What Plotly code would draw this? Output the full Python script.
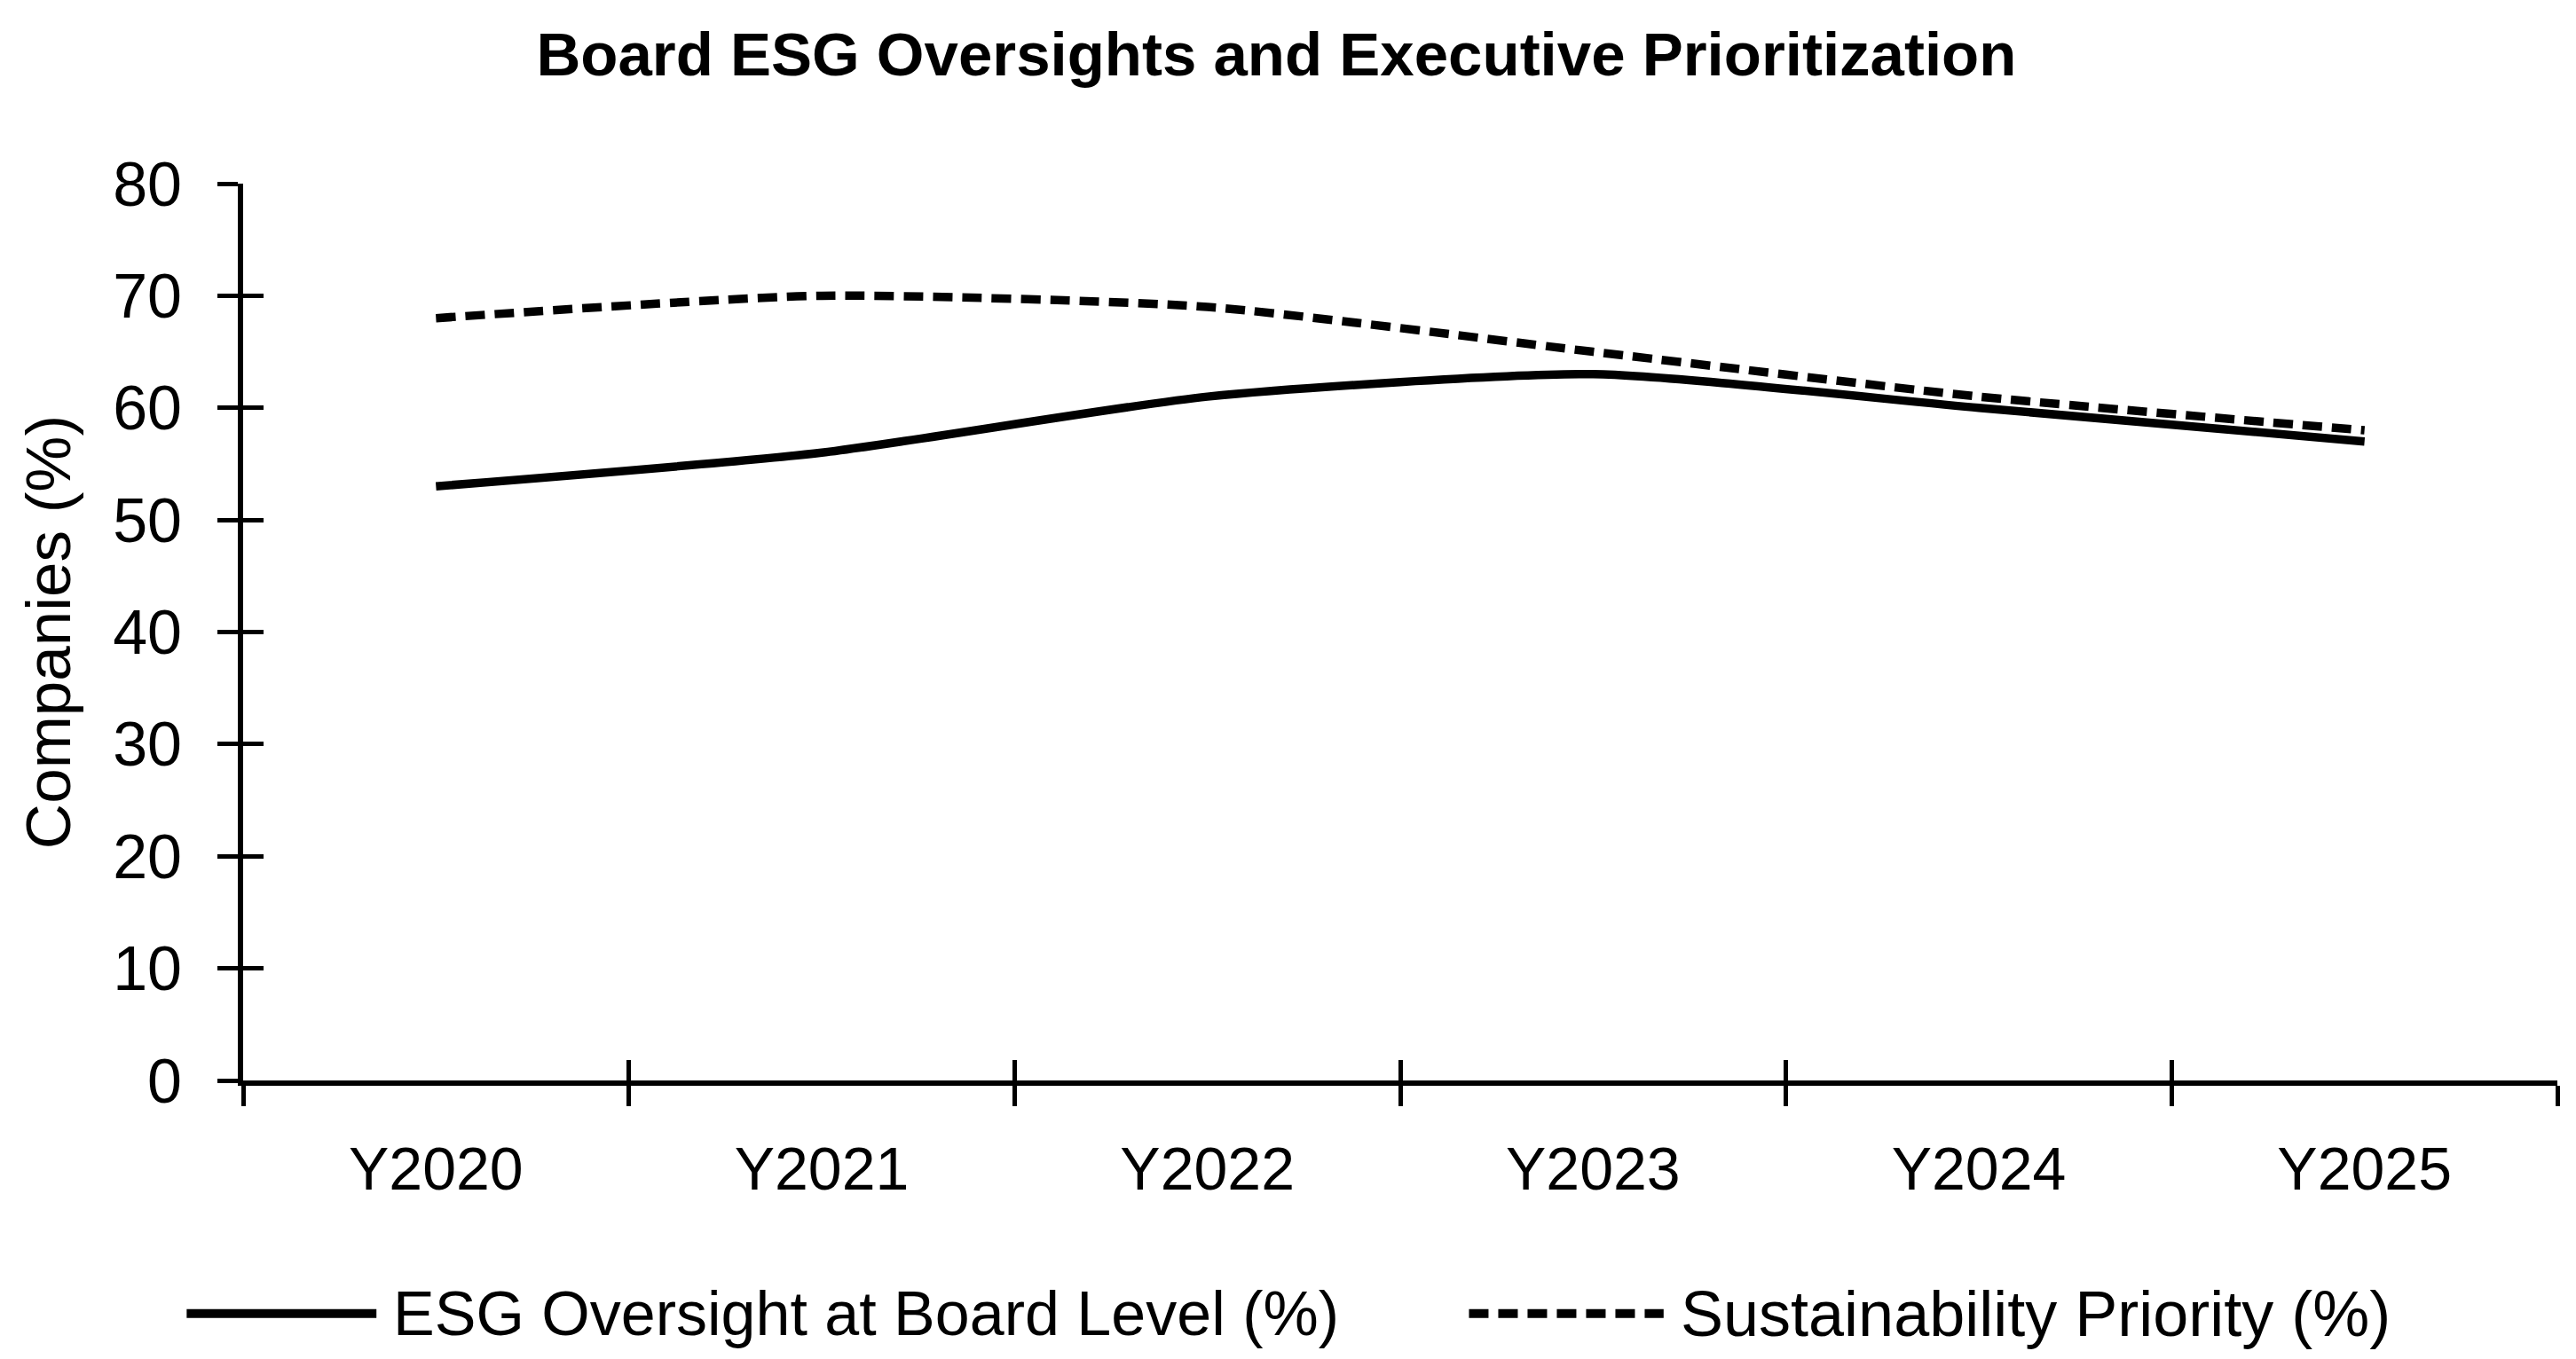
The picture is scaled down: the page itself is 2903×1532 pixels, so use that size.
import plotly.graph_objects as go

# data
years = ["Y2020", "Y2021", "Y2022", "Y2023", "Y2024", "Y2025"]
esg_oversight = [53, 56, 61, 63, 60, 57]
sustainability_priority = [68, 70, 69, 65, 61, 58]
series_names = ["ESG Oversight at Board Level (%)", "Sustainability Priority (%)"]
y_ticks = [0, 10, 20, 30, 40, 50, 60, 70, 80]

FONT = "Liberation Sans, Arial, sans-serif"
LINE_W = 9.5
DASH = "22px,11px"

fig = go.Figure()
fig.add_trace(go.Scatter(
    x=years, y=esg_oversight, name=series_names[0], mode="lines",
    line=dict(color="black", width=LINE_W, shape="spline", smoothing=0.6),
    showlegend=False,
))
# second series on overlaid axes so that ticks can cross the axis lines
fig.add_trace(go.Scatter(
    x=years, y=sustainability_priority, name=series_names[1], mode="lines",
    line=dict(color="black", width=LINE_W, dash=DASH, shape="spline", smoothing=0.6),
    xaxis="x2", yaxis="y2", showlegend=False,
))

axis_common = dict(showgrid=False, zeroline=False, tickcolor="black", tickwidth=5, ticklen=23)

fig.update_layout(
    width=2903, height=1532,
    margin=dict(l=274, r=21, t=207, b=314),
    paper_bgcolor="white", plot_bgcolor="white",
    font=dict(family=FONT, color="black"),
    title=dict(text="<b>Board ESG Oversights and Executive Prioritization</b>",
               font=dict(size=69, family=FONT, color="black"),
               x=0.4955, xanchor="center", y=0.960, yanchor="middle", yref="container"),
    xaxis=dict(type="category", range=[-0.5, 5.5], tickson="boundaries", ticks="outside",
               showline=True, linecolor="black", linewidth=6,
               tickfont=dict(size=68), ticklabelstandoff=35, **axis_common),
    xaxis2=dict(type="category", range=[-0.5, 5.5], tickson="boundaries", ticks="inside",
                overlaying="x", anchor="y", side="bottom", showticklabels=False,
                showline=False, **axis_common),
    yaxis=dict(range=[0, 80], tickvals=y_ticks, ticks="outside", showline=True,
               linecolor="black", linewidth=6, tickfont=dict(size=70),
               ticklabelstandoff=26,
               title=dict(text="Companies (%)", font=dict(size=71), standoff=26),
               **axis_common),
    yaxis2=dict(range=[0, 80], tickvals=y_ticks, ticks="inside", overlaying="y",
                anchor="x", side="left", showticklabels=False, showline=False,
                **axis_common),
)

# legend drawn as paper-positioned samples and labels
legend_y = -0.260
legend_items = [
    (series_names[0], "solid", -0.0244, 0.0576, 0.0640, 70),
    (series_names[1], DASH, 0.5297, 0.6138, 0.6205, 72),
]
for name, dash, x0, x1, xt, size in legend_items:
    fig.add_shape(type="line", xref="paper", yref="paper", x0=x0, x1=x1,
                  y0=legend_y, y1=legend_y,
                  line=dict(color="black", width=10, dash=dash))
    fig.add_annotation(text=name, xref="paper", yref="paper", x=xt, y=legend_y,
                       xanchor="left", yanchor="middle", showarrow=False,
                       font=dict(size=size, family=FONT, color="black"))

fig.write_html("out.html", config={"displayModeBar": False},
               post_script="document.body.style.margin='0px';")
